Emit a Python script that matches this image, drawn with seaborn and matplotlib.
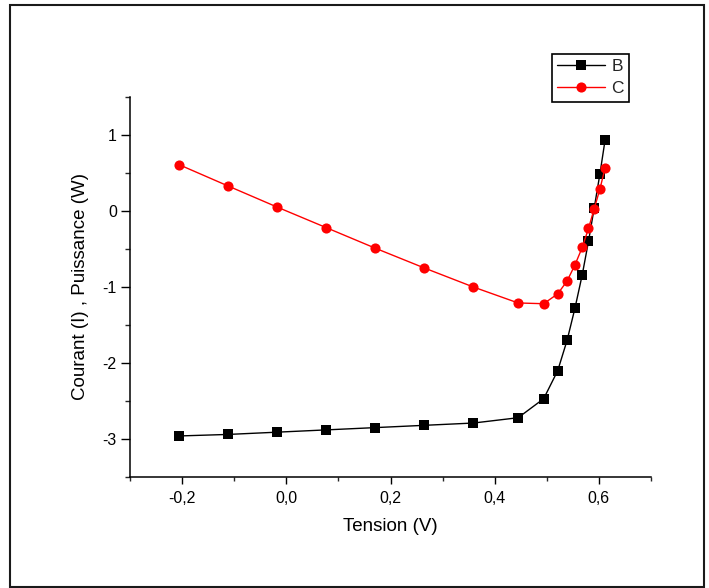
import matplotlib
matplotlib.use("Agg")
import matplotlib.pyplot as plt
from matplotlib.patches import Rectangle
from matplotlib.ticker import MultipleLocator, FuncFormatter
import seaborn as sns
import pandas as pd

# Tension (V) at each measurement point
tension = [-0.206, -0.112, -0.017, 0.077, 0.171, 0.265, 0.359, 0.445, 0.494,
           0.521, 0.539, 0.554, 0.568, 0.580, 0.591, 0.602, 0.612]
# Courant (I)
courant_b = [-2.96, -2.94, -2.91, -2.88, -2.85, -2.82, -2.79, -2.72, -2.47,
             -2.10, -1.70, -1.28, -0.84, -0.40, 0.04, 0.49, 0.94]
# Puissance (W)
puissance_c = [0.61, 0.33, 0.05, -0.22, -0.49, -0.75, -1.00, -1.21, -1.22,
               -1.09, -0.92, -0.71, -0.48, -0.23, 0.03, 0.29, 0.57]

series_names = ["B", "C"]
x_label = "Tension (V)"
y_label = "Courant (I) , Puissance (W)"

df_b = pd.DataFrame({"x": tension, "y": courant_b})
df_c = pd.DataFrame({"x": tension, "y": puissance_c})

sns.set_style("ticks")
plt.rcParams["font.family"] = ["Liberation Sans", "DejaVu Sans"]
plt.rcParams["axes.unicode_minus"] = False

fig = plt.figure(figsize=(7.09, 5.88), dpi=100)
ax = fig.add_axes([130 / 709, 111 / 588, 521 / 709, 380 / 588])

sns.lineplot(data=df_b, x="x", y="y", ax=ax, sort=False, color="black",
             marker="s", markersize=6.5, markeredgewidth=0, linewidth=1.0,
             label=series_names[0])
sns.lineplot(data=df_c, x="x", y="y", ax=ax, sort=False, color="#ff0000",
             marker="o", markersize=7.3, markeredgewidth=0, linewidth=1.0,
             label=series_names[1])

ax.set_xlim(-0.3, 0.7)
ax.set_ylim(-3.5, 1.5)
ax.xaxis.set_major_locator(MultipleLocator(0.2))
ax.xaxis.set_minor_locator(MultipleLocator(0.1))
ax.yaxis.set_major_locator(MultipleLocator(1))
ax.yaxis.set_minor_locator(MultipleLocator(0.5))
ax.xaxis.set_major_formatter(FuncFormatter(lambda v, p: f"{v:.1f}".replace(".", ",").replace("-0,0", "0,0")))
ax.yaxis.set_major_formatter(FuncFormatter(lambda v, p: f"{v:g}"))

for side in ("top", "right"):
    ax.spines[side].set_visible(False)
for side in ("left", "bottom"):
    ax.spines[side].set_linewidth(1.1)
    ax.spines[side].set_color("black")

ax.tick_params(axis="y", which="major", length=6.5, width=1, direction="out", labelsize=11.5, pad=3, colors="black")
ax.tick_params(axis="y", which="minor", length=3.5, width=1, direction="out")
ax.tick_params(axis="x", which="major", length=5, width=1, direction="out", labelsize=11.5, pad=5, colors="black")
ax.tick_params(axis="x", which="minor", length=3, width=1, direction="out")

ax.set_xlabel(x_label, fontsize=13.5, labelpad=9, color="black")
ax.set_ylabel(y_label, fontsize=13.5, labelpad=10, color="black")

leg = ax.legend(loc="upper left", bbox_to_anchor=(551.5 / 709, 1 - 54 / 588),
                bbox_transform=fig.transFigure, fontsize=12.5, frameon=True,
                fancybox=False, framealpha=1, edgecolor="black",
                handlelength=2.8, handletextpad=0.35, borderpad=0.3,
                labelspacing=0.4, borderaxespad=0)
leg.get_frame().set_linewidth(1.2)

# Outer frame around the whole figure
fig.patches.append(Rectangle((9.5 / 709, 1.5 / 588), (703.5 - 9.5) / 709, (583.5 - 1.5) / 588,
                             transform=fig.transFigure, fill=False,
                             edgecolor="#1a1a1a", linewidth=1.5))

fig.savefig("out.png", dpi=100, facecolor="white")
